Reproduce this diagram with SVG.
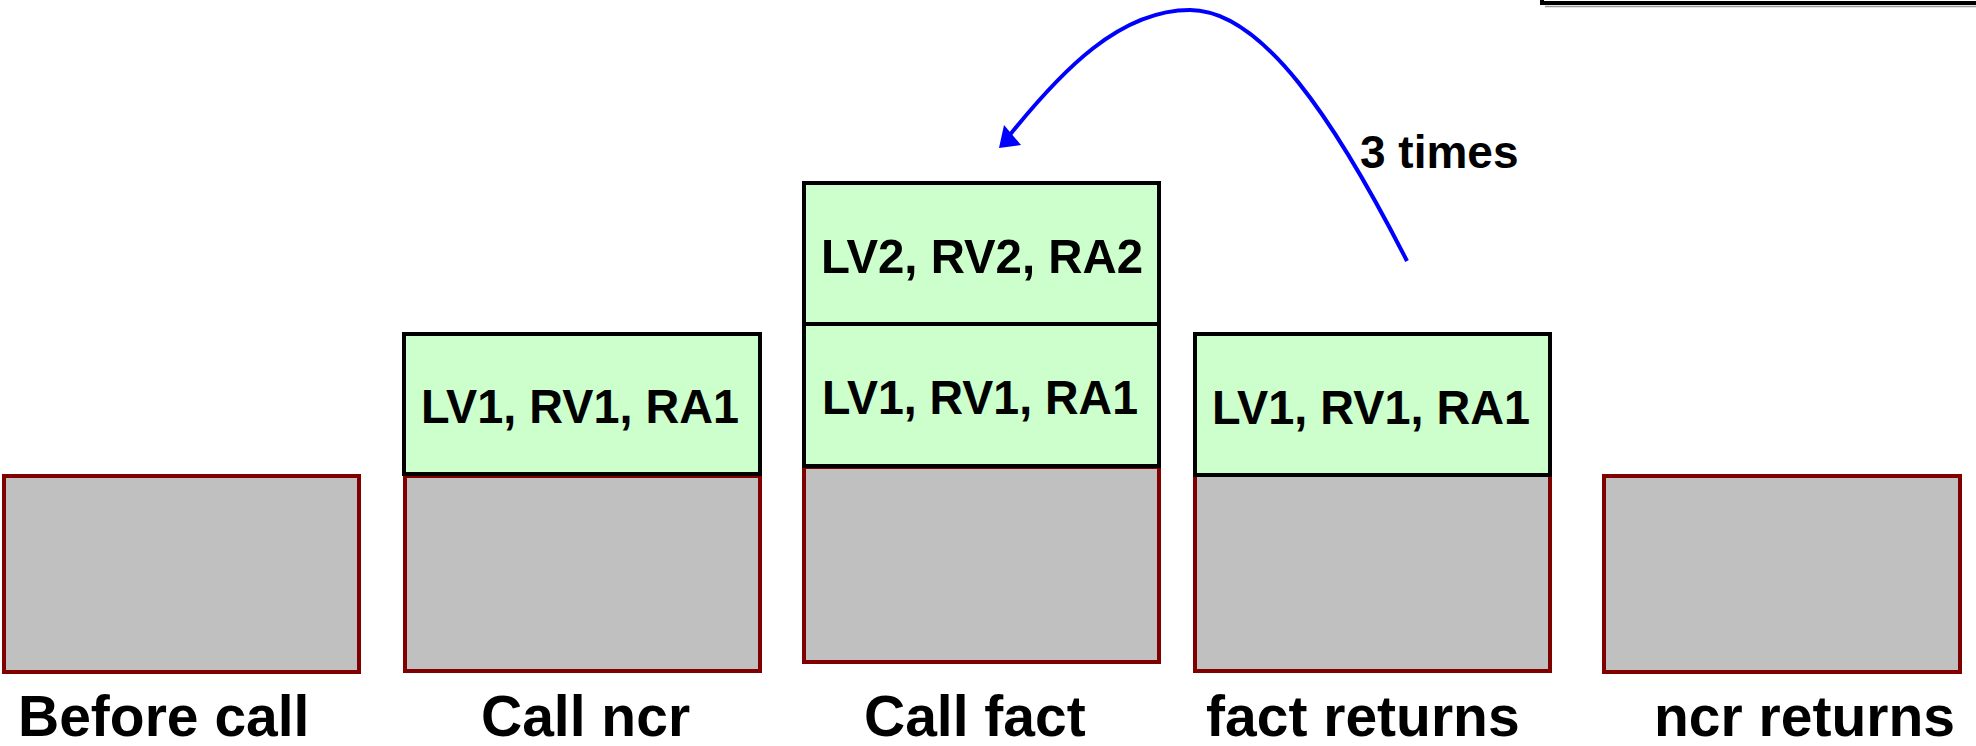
<svg xmlns="http://www.w3.org/2000/svg" width="1976" height="746" viewBox="0 0 1976 746">
  <style>
    .base { fill: #C0C0C0; stroke: #800000; stroke-width: 4; }
    .frame { fill: #CCFFCC; stroke: #000000; stroke-width: 4; }
    .ft { font-family: "Liberation Sans", Arial, sans-serif; font-weight: bold; font-size: 49px; fill: #000; }
    .lbl { font-family: "Liberation Sans", Arial, sans-serif; font-weight: bold; font-size: 57px; fill: #000; }
    .note { font-family: "Liberation Sans", Arial, sans-serif; font-weight: bold; font-size: 46px; fill: #000; }
    .conn { fill: none; stroke: #0000FF; stroke-width: 4; }
  </style>
  <rect width="1976" height="746" fill="#FFFFFF"/>

  <g id="top-line">
    <path d="M1542,-4 V3 H1980" fill="none" stroke="#000" stroke-width="4"/>
    <path d="M1545,6.5 H1980" fill="none" stroke="#9a9a9a" stroke-width="1.5"/>
  </g>

  <g id="before-call">
    <rect class="base" x="4" y="476" width="355" height="196"/>
    <text class="lbl" x="18" y="736">Before call</text>
  </g>

  <g id="call-ncr">
    <rect class="base" x="405" y="476" width="355" height="195"/>
    <rect class="frame" x="404" y="334" width="356" height="140"/>
    <text class="ft" x="421" y="423" textLength="318" lengthAdjust="spacingAndGlyphs">LV1, RV1, RA1</text>
    <text class="lbl" x="481" y="736">Call ncr</text>
  </g>

  <g id="call-fact">
    <rect class="base" x="804" y="467" width="355" height="195"/>
    <rect class="frame" x="804" y="324" width="355" height="142"/>
    <rect class="frame" x="804" y="183" width="355" height="141"/>
    <text class="ft" x="821" y="273" textLength="322" lengthAdjust="spacingAndGlyphs">LV2, RV2, RA2</text>
    <text class="ft" x="822" y="414" textLength="316" lengthAdjust="spacingAndGlyphs">LV1, RV1, RA1</text>
    <text class="lbl" x="864" y="736">Call fact</text>
  </g>

  <g id="fact-returns">
    <rect class="base" x="1195" y="475" width="355" height="196"/>
    <rect class="frame" x="1195" y="334" width="355" height="141"/>
    <text class="ft" x="1212" y="424" textLength="318" lengthAdjust="spacingAndGlyphs">LV1, RV1, RA1</text>
    <text class="lbl" x="1206" y="736">fact returns</text>
  </g>

  <g id="ncr-returns">
    <rect class="base" x="1604" y="476" width="356" height="196"/>
    <text class="lbl" x="1654" y="736">ncr returns</text>
  </g>

  <g id="connectors">
    <path class="conn" d="M1407,261 C1335,120 1262,10 1190,10 C1120,10 1062,70 1009,136"/>
    <polygon points="999,148 1021,145 1004,125" fill="#0000FF"/>
    <text class="note" x="1360" y="168">3 times</text>
  </g>
</svg>
